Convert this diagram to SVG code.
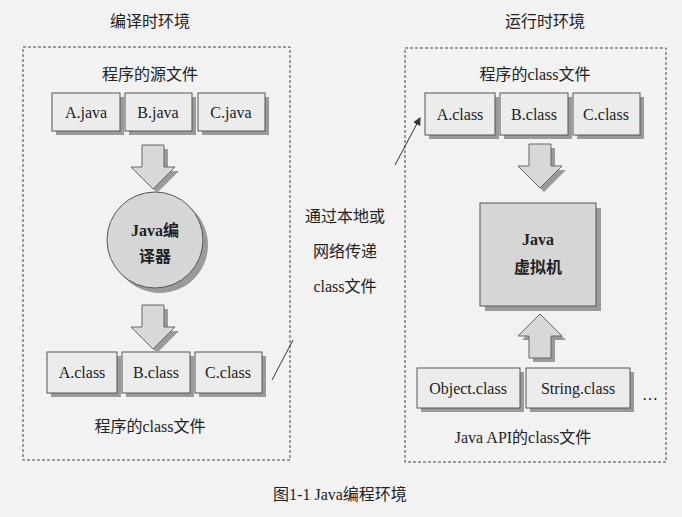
<svg xmlns="http://www.w3.org/2000/svg" width="682" height="517" viewBox="0 0 682 517">
<defs>
<style>
text{font-family:"Liberation Serif","Noto Sans CJK SC",serif;font-size:16px;fill:#222;text-anchor:middle}
.b{font-weight:bold}
.env{fill:none;stroke:#444;stroke-width:1;stroke-dasharray:3,2}
.box{fill:#ececec;stroke:#555;stroke-width:1}
.sh{fill:#9a9a9a}
.arr{fill:#d8d8d8;stroke:#666;stroke-width:1}
.ln{stroke:#333;stroke-width:1;fill:none}
</style>
<marker id="ah" markerWidth="8" markerHeight="8" refX="7" refY="4" orient="auto"><path d="M0,0 L8,4 L0,8 z" fill="#333"/></marker>
<path id="da" d="M-11,0 H11 V22 H22 L0,44 L-22,22 H-11 Z"/>
<path id="ua" d="M-11,44 H11 V22 H22 L0,0 L-22,22 H-11 Z"/>
</defs>
<rect width="682" height="517" fill="#f2f2f2"/>
<text x="150" y="27">编译时环境</text>
<text x="545" y="27">运行时环境</text>
<rect class="env" x="23" y="47" width="267" height="413"/>
<rect class="env" x="405" y="48" width="261" height="414"/>
<text x="150" y="80">程序的源文件</text>
<g id="ajava"><rect class="sh" x="56" y="97" width="68" height="38"/><rect class="box" x="52" y="93" width="68" height="38"/><text x="86" y="118">A.java</text></g>
<g id="bjava"><rect class="sh" x="129" y="97" width="67" height="38"/><rect class="box" x="125" y="93" width="67" height="38"/><text x="158" y="118">B.java</text></g>
<g id="cjava"><rect class="sh" x="202" y="97" width="67" height="38"/><rect class="box" x="198" y="93" width="67" height="38"/><text x="231" y="118">C.java</text></g>
<g id="compiler"><circle cx="160" cy="245" r="48" class="sh"/><circle cx="155" cy="240" r="48" fill="#d6d6d6" stroke="#555"/><text class="b" x="155" y="236" font-size="14">Java编</text><text class="b" x="155" y="262" font-size="14">译器</text></g>
<g id="aclass1"><rect class="sh" x="51" y="356" width="70" height="41"/><rect class="box" x="47" y="352" width="70" height="41"/><text x="82" y="378">A.class</text></g>
<g id="bclass1"><rect class="sh" x="126" y="356" width="68" height="41"/><rect class="box" x="122" y="352" width="68" height="41"/><text x="156" y="378">B.class</text></g>
<g id="cclass1"><rect class="sh" x="199" y="356" width="67" height="41"/><rect class="box" x="195" y="352" width="67" height="41"/><text x="228" y="378">C.class</text></g>
<text x="150" y="432">程序的class文件</text>
<text x="345" y="222">通过本地或</text>
<text x="345" y="257">网络传递</text>
<text x="345" y="292">class文件</text>
<text x="535" y="80">程序的class文件</text>
<g id="aclass2"><rect class="sh" x="429" y="97" width="70" height="42"/><rect class="box" x="425" y="93" width="70" height="42"/><text x="460" y="120">A.class</text></g>
<g id="bclass2"><rect class="sh" x="504" y="97" width="68" height="42"/><rect class="box" x="500" y="93" width="68" height="42"/><text x="534" y="120">B.class</text></g>
<g id="cclass2"><rect class="sh" x="577" y="97" width="67" height="42"/><rect class="box" x="573" y="93" width="67" height="42"/><text x="606" y="120">C.class</text></g>
<g id="jvm"><rect class="sh" x="485" y="208" width="116" height="103"/><rect x="480" y="203" width="116" height="103" fill="#d6d6d6" stroke="#555"/><text class="b" x="538" y="245" font-size="14">Java</text><text class="b" x="538" y="273" font-size="14">虚拟机</text></g>
<g id="object"><rect class="sh" x="421" y="372" width="103" height="40"/><rect class="box" x="417" y="368" width="103" height="40"/><text x="468" y="394">Object.class</text></g>
<g id="string"><rect class="sh" x="530" y="372" width="104" height="40"/><rect class="box" x="526" y="368" width="104" height="40"/><text x="578" y="394">String.class</text></g>
<text x="650" y="400" font-size="20">…</text>
<text x="523" y="443">Java API的class文件</text>
<g id="connectors">
<use href="#da" x="157" y="149" class="sh"/><use href="#da" x="153" y="145" class="arr"/>
<use href="#da" x="157" y="309" class="sh"/><use href="#da" x="153" y="305" class="arr"/>
<use href="#da" x="544" y="148" class="sh"/><use href="#da" x="540" y="144" class="arr"/>
<use href="#ua" x="544" y="318" class="sh"/><use href="#ua" x="540" y="314" class="arr"/>
<line class="ln" x1="272" y1="380" x2="293" y2="340"/>
<line class="ln" x1="395" y1="165" x2="420" y2="118" marker-end="url(#ah)"/>
</g>
<text x="340" y="500">图1-1  Java编程环境</text>
</svg>
